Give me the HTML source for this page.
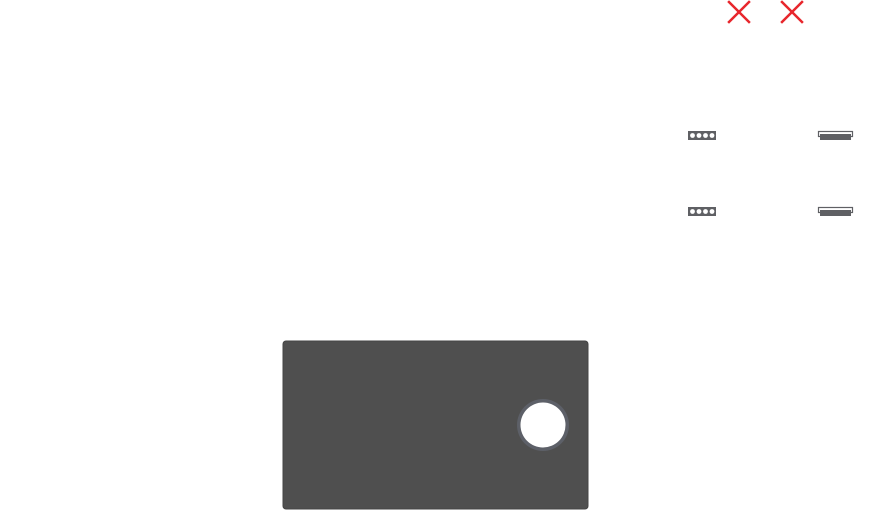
<!DOCTYPE html>
<html><head><meta charset="utf-8"><style>
html,body{margin:0;padding:0;background:#fff;}
body{width:871px;height:513px;overflow:hidden;font-family:"Liberation Sans",sans-serif;}
</style></head><body>
<svg width="871" height="513" xmlns="http://www.w3.org/2000/svg">
<g stroke="#e8262c" stroke-width="2.5" stroke-linecap="square">
<line x1="729" y1="2" x2="749" y2="22"/><line x1="749" y1="2" x2="729" y2="22"/>
<line x1="782" y1="2" x2="802" y2="22"/><line x1="802" y1="2" x2="782" y2="22"/>
</g>
<g fill="#5f6064">
<rect x="688" y="131" width="28" height="9"/>
<rect x="688" y="207" width="28" height="9"/>
</g>
<g fill="#fff">
<circle cx="692.5" cy="135.5" r="2.4"/><circle cx="699" cy="135.5" r="2.4"/><circle cx="705.5" cy="135.5" r="2.4"/><circle cx="712" cy="135.5" r="2.4"/>
<circle cx="692.5" cy="211.5" r="2.4"/><circle cx="699" cy="211.5" r="2.4"/><circle cx="705.5" cy="211.5" r="2.4"/><circle cx="712" cy="211.5" r="2.4"/>
</g>
<g>
<rect x="818.5" y="131.5" width="34" height="5" fill="none" stroke="#5f6064" stroke-width="1.2"/>
<rect x="820" y="134" width="31" height="6" fill="#5f6064"/>
<rect x="818.5" y="207.5" width="34" height="5" fill="none" stroke="#5f6064" stroke-width="1.2"/>
<rect x="820" y="210" width="31" height="6" fill="#5f6064"/>
</g>
<rect x="283" y="341" width="305" height="168" rx="3" fill="#4f4f4f" stroke="#444" stroke-width="1"/>
<circle cx="543" cy="425" r="26" fill="#5d6068"/>
<circle cx="543" cy="425" r="22.5" fill="#fff"/>
</svg>
</body></html>
